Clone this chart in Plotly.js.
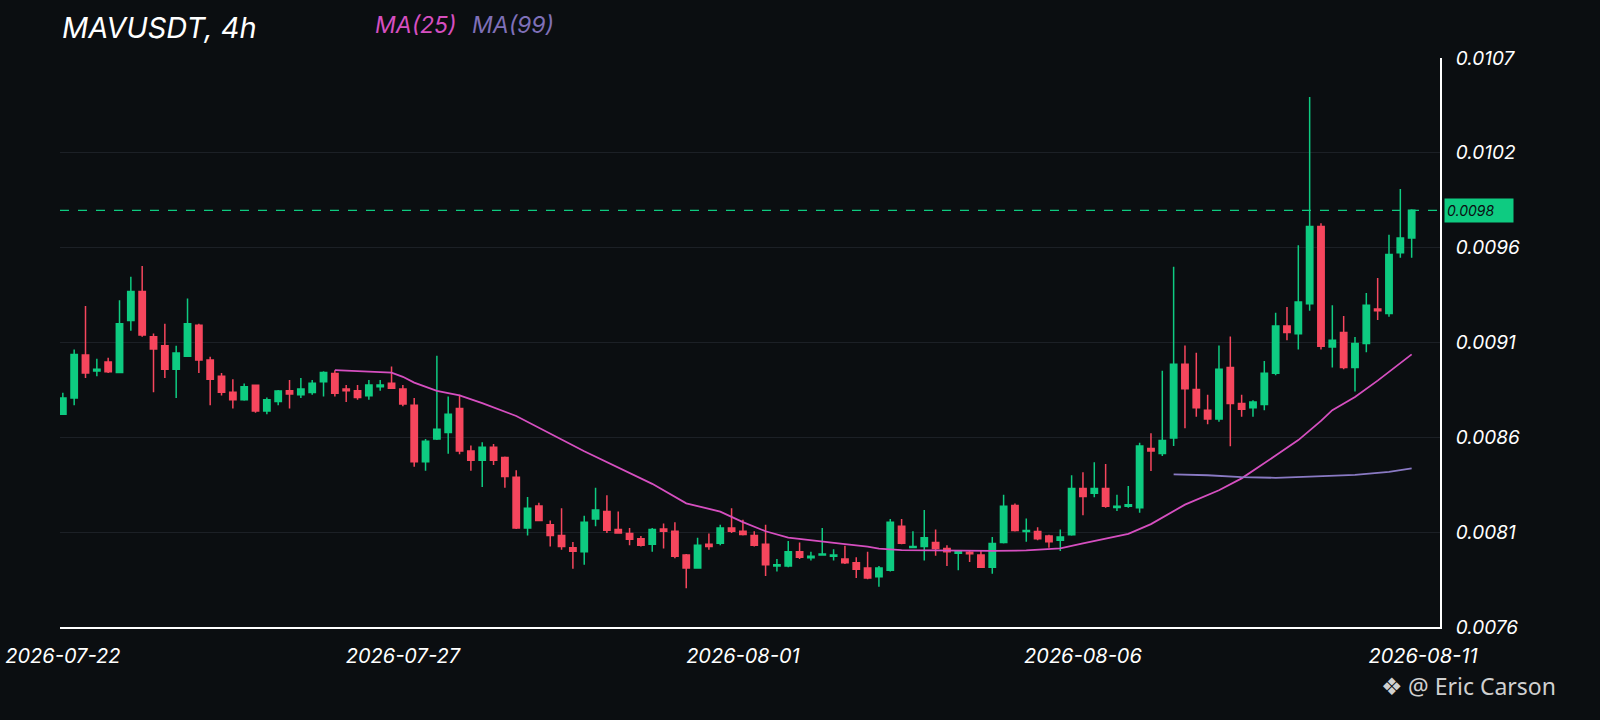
<!DOCTYPE html>
<html>
<head>
<meta charset="utf-8">
<script src="https://cdn.plot.ly/plotly-3.0.1.min.js"></script>
<style>
  html, body { margin: 0; padding: 0; background: #0b0e11; }
  #chart { width: 1600px; height: 720px; }
</style>
</head>
<body>
<div id="chart"></div>
<script>
// 4h candles, first one opens 2026-07-22 00:00
var startTime = "2026-07-22T00:00:00Z";

var opens = [
	0.008726, 0.008815, 0.009051, 0.008964, 0.009013, 0.008955, 0.009241, 0.009400, 0.009152, 0.009102,
	0.008974, 0.009045, 0.009214, 0.009024, 0.008935, 0.008847, 0.008806, 0.008886, 0.008744, 0.008797,
	0.008855, 0.008833, 0.008846, 0.008905, 0.008950, 0.008865, 0.008855, 0.008828, 0.008878, 0.008896,
	0.008865, 0.008776, 0.008466, 0.008591, 0.008627, 0.008758, 0.008525, 0.008475, 0.008546, 0.008489,
	0.008381, 0.008103, 0.008223, 0.008121, 0.008062, 0.007994, 0.007973, 0.008152, 0.008193, 0.008094,
	0.008073, 0.008044, 0.008014, 0.008098, 0.008085, 0.007955, 0.007883, 0.008014, 0.008019, 0.008103,
	0.008085, 0.008062, 0.008014, 0.007894, 0.007894, 0.007973, 0.007940, 0.007955, 0.007948, 0.007933,
	0.007912, 0.007883, 0.007835, 0.007871, 0.008112, 0.007996, 0.008001, 0.008023, 0.007990, 0.007965,
	0.007970, 0.007955, 0.007888, 0.008023, 0.008226, 0.008084, 0.008084, 0.008059, 0.008035, 0.008066,
	0.008320, 0.008294, 0.008320, 0.008215, 0.008222, 0.008214, 0.008539, 0.008511, 0.008596, 0.009001,
	0.008862, 0.008749, 0.008701, 0.008983, 0.008785, 0.008762, 0.008780, 0.008952, 0.009211, 0.009168,
	0.009333, 0.009756, 0.009096, 0.009175, 0.008983, 0.009114, 0.009304, 0.009279, 0.009612, 0.009693
];
var highs = [
	0.008845, 0.009081, 0.009320, 0.009031, 0.009037, 0.009351, 0.009480, 0.009539, 0.009170, 0.009223,
	0.009102, 0.009361, 0.009223, 0.009042, 0.008953, 0.008918, 0.008895, 0.008890, 0.008818, 0.008860,
	0.008914, 0.008926, 0.008914, 0.008962, 0.008968, 0.008887, 0.008887, 0.008914, 0.008914, 0.008989,
	0.008887, 0.008815, 0.008591, 0.009048, 0.008824, 0.008833, 0.008555, 0.008573, 0.008564, 0.008495,
	0.008420, 0.008273, 0.008241, 0.008144, 0.008211, 0.008026, 0.008170, 0.008323, 0.008282, 0.008193,
	0.008103, 0.008059, 0.008103, 0.008127, 0.008134, 0.007960, 0.008050, 0.008073, 0.008121, 0.008211,
	0.008148, 0.008085, 0.008121, 0.007933, 0.008032, 0.008023, 0.007973, 0.008103, 0.007987, 0.008005,
	0.007942, 0.007973, 0.007894, 0.008152, 0.008152, 0.008085, 0.008202, 0.008094, 0.008008, 0.007975,
	0.007977, 0.007977, 0.008053, 0.008285, 0.008237, 0.008155, 0.008107, 0.008066, 0.008094, 0.008392,
	0.008409, 0.008463, 0.008454, 0.008285, 0.008333, 0.008570, 0.008623, 0.008965, 0.009535, 0.009103,
	0.009064, 0.008834, 0.009103, 0.009153, 0.008834, 0.008803, 0.009019, 0.009283, 0.009315, 0.009653,
	0.010466, 0.009774, 0.009324, 0.009265, 0.009150, 0.009391, 0.009473, 0.009711, 0.009962, 0.009850
];
var lows = [
	0.008722, 0.008776, 0.008925, 0.008935, 0.008953, 0.008953, 0.009184, 0.009152, 0.008847, 0.008925,
	0.008815, 0.009040, 0.008953, 0.008776, 0.008829, 0.008758, 0.008800, 0.008735, 0.008726, 0.008776,
	0.008758, 0.008815, 0.008833, 0.008824, 0.008824, 0.008794, 0.008806, 0.008806, 0.008855, 0.008865,
	0.008770, 0.008439, 0.008417, 0.008586, 0.008510, 0.008507, 0.008417, 0.008327, 0.008448, 0.008323,
	0.008098, 0.008062, 0.008140, 0.008001, 0.007983, 0.007880, 0.007901, 0.008112, 0.008076, 0.008073,
	0.008008, 0.008001, 0.007973, 0.007990, 0.007937, 0.007772, 0.007880, 0.007983, 0.008008, 0.008076,
	0.008062, 0.008001, 0.007840, 0.007865, 0.007888, 0.007933, 0.007924, 0.007951, 0.007924, 0.007906,
	0.007829, 0.007822, 0.007781, 0.007865, 0.008014, 0.007994, 0.007924, 0.007951, 0.007894, 0.007871,
	0.007916, 0.007884, 0.007852, 0.008018, 0.008084, 0.008027, 0.008035, 0.007994, 0.007977, 0.008060,
	0.008173, 0.008272, 0.008214, 0.008196, 0.008214, 0.008187, 0.008415, 0.008498, 0.008552, 0.008650,
	0.008713, 0.008672, 0.008686, 0.008551, 0.008713, 0.008713, 0.008749, 0.008941, 0.009132, 0.009082,
	0.009294, 0.009082, 0.008983, 0.008974, 0.008851, 0.009067, 0.009243, 0.009261, 0.009585, 0.009585
];
var closes = [
	0.008815, 0.009054, 0.008953, 0.008974, 0.008960, 0.009223, 0.009400, 0.009161, 0.009085, 0.008974,
	0.009063, 0.009223, 0.009024, 0.008918, 0.008847, 0.008806, 0.008877, 0.008744, 0.008806, 0.008854,
	0.008837, 0.008865, 0.008896, 0.008955, 0.008842, 0.008855, 0.008819, 0.008887, 0.008887, 0.008869,
	0.008783, 0.008466, 0.008579, 0.008645, 0.008726, 0.008525, 0.008475, 0.008546, 0.008475, 0.008385,
	0.008103, 0.008211, 0.008144, 0.008062, 0.008001, 0.007976, 0.008134, 0.008202, 0.008091, 0.008076,
	0.008041, 0.008008, 0.008094, 0.008085, 0.007948, 0.007883, 0.008008, 0.008001, 0.008103, 0.008085,
	0.008067, 0.008008, 0.007901, 0.007901, 0.007973, 0.007942, 0.007948, 0.007960, 0.007955, 0.007912,
	0.007876, 0.007829, 0.007883, 0.008134, 0.008019, 0.008001, 0.008050, 0.007990, 0.007973, 0.007973,
	0.007962, 0.007888, 0.008018, 0.008222, 0.008089, 0.008089, 0.008044, 0.008027, 0.008053, 0.008320,
	0.008276, 0.008320, 0.008222, 0.008222, 0.008231, 0.008552, 0.008525, 0.008582, 0.009001, 0.008866,
	0.008762, 0.008701, 0.008974, 0.008785, 0.008754, 0.008794, 0.008952, 0.009211, 0.009175, 0.009342,
	0.009756, 0.009100, 0.009132, 0.008983, 0.009114, 0.009324, 0.009294, 0.009603, 0.009693, 0.009845
];

// moving averages (candle index -> value)
var ma25Idx = [24, 27, 29, 30, 31, 33, 35, 37, 39, 40, 46, 49, 52, 55, 58, 60, 62, 64, 67, 69,
	71, 72, 74, 79, 82, 85, 88, 90, 94, 96, 99, 102, 104, 107, 109, 111, 112, 114, 116, 119];
var ma25Val = [0.008968, 0.008962, 0.008955, 0.008932, 0.008900, 0.008855, 0.008830, 0.008788, 0.008740, 0.008717,
	0.008524, 0.008434, 0.008345, 0.008238, 0.008193, 0.008135, 0.008085, 0.008050, 0.008026, 0.008014,
	0.008001, 0.007990, 0.007982, 0.007977, 0.007977, 0.007980, 0.007991, 0.008018, 0.008071, 0.008124,
	0.008231, 0.008310, 0.008375, 0.008500, 0.008585, 0.008690, 0.008749, 0.008821, 0.008911, 0.009055];
var ma99Idx = [98, 101, 104, 107, 110, 114, 117, 119];
var ma99Val = [0.008397, 0.008392, 0.008382, 0.008378, 0.008385, 0.008394, 0.008410, 0.008430];

var lastPrice = 0.009845;

var yTickVals = [0.00756, 0.00808, 0.0086, 0.00912, 0.00964, 0.01016, 0.01068];
var yTickText = ["0.0076", "0.0081", "0.0086", "0.0091", "0.0096", "0.0102", "0.0107"];
var xTickVals = ["2026-07-22", "2026-07-27", "2026-08-01", "2026-08-06", "2026-08-11"];
var xTickText = ["2026-07-22", "2026-07-27", "2026-08-01", "2026-08-06", "2026-08-11"];

var GREEN = "#0ecb81";
var RED = "#f6465d";
var BG = "#0b0e11";
var FONT = "Inter, Roboto, 'Open Sans', sans-serif";

var t0 = new Date(startTime).getTime();
var times = [];
for (var i = 0; i < opens.length; i++) {
	times.push(new Date(t0 + i * 4 * 3600 * 1000).toISOString().slice(0, 16).replace("T", " "));
}
function pick(idx) {
	return idx.map(function (k) { return times[k]; });
}

var candles = {
	type: "candlestick",
	x: times,
	open: opens, high: highs, low: lows, close: closes,
	increasing: { line: { color: GREEN, width: 1.5 }, fillcolor: GREEN },
	decreasing: { line: { color: RED, width: 1.5 }, fillcolor: RED },
	hoverinfo: "skip",
	showlegend: false
};
var ma25 = {
	type: "scatter", mode: "lines",
	x: pick(ma25Idx), y: ma25Val,
	line: { color: "#d64fc0", width: 1.8 },
	hoverinfo: "skip", showlegend: false
};
var ma99 = {
	type: "scatter", mode: "lines",
	x: pick(ma99Idx), y: ma99Val,
	line: { color: "#8a7ac4", width: 1.8 },
	hoverinfo: "skip", showlegend: false
};

var italic = function (size, color) {
	return { family: FONT, size: size, color: color, style: "italic" };
};

var layout = {
	width: 1600, height: 720,
	margin: { l: 60, r: 160, t: 58, b: 93 },
	paper_bgcolor: BG, plot_bgcolor: BG,
	boxgap: 0.2,
	hovermode: false,
	xaxis: {
		type: "date",
		range: ["2026-07-21 23:00", "2026-08-11 06:00"],
		rangeslider: { visible: false },
		tickvals: xTickVals, ticktext: xTickText,
		tickfont: italic(20, "#ffffff"),
		ticks: "outside", ticklen: 10, tickcolor: "rgba(0,0,0,0)",
		showgrid: false, zeroline: false,
		showline: true, linecolor: "#ffffff", linewidth: 2
	},
	yaxis: {
		side: "right",
		range: [0.00756, 0.01068],
		tickvals: yTickVals, ticktext: yTickText,
		tickfont: italic(19, "#ffffff"),
		ticks: "outside", ticklen: 10, tickcolor: "rgba(0,0,0,0)",
		showgrid: true, gridcolor: "#1c2026", gridwidth: 1,
		zeroline: false,
		showline: true, linecolor: "#ffffff", linewidth: 2
	},
	shapes: [{
		type: "line", xref: "paper", yref: "y",
		x0: 0, x1: 1, y0: lastPrice, y1: lastPrice,
		line: { color: GREEN, width: 1.2, dash: "dash" }
	}],
	annotations: [
		{ text: "MAVUSDT, 4h", xref: "paper", yref: "paper", x: 0, y: 1.053,
			xanchor: "left", yanchor: "middle", showarrow: false, font: italic(29, "#ffffff") },
		{ text: "MA(25)", xref: "paper", yref: "paper", x: 0.2268, y: 1.058,
			xanchor: "left", yanchor: "middle", showarrow: false, font: italic(23, "#d64fc0") },
		{ text: "MA(99)", xref: "paper", yref: "paper", x: 0.2971, y: 1.058,
			xanchor: "left", yanchor: "middle", showarrow: false, font: italic(23, "#7f70b8") },
		{ text: "0.0098", xref: "paper", yref: "y", x: 1, y: lastPrice,
			xanchor: "left", yanchor: "middle", xshift: 4, showarrow: false,
			bgcolor: GREEN, width: 64, height: 19, align: "left", borderpad: 2,
			font: italic(14, "#0b0e11") },
		{ text: "❖", xref: "paper", yref: "paper", x: 0.9745, y: -0.106,
			xanchor: "right", yanchor: "middle", showarrow: false,
			font: { family: "'DejaVu Sans', sans-serif", size: 24, color: "#d0d0d0" } },
		{ text: "@ Eric Carson", xref: "paper", yref: "paper", x: 1.0855, y: -0.104,
			xanchor: "right", yanchor: "middle", showarrow: false,
			font: { family: "'Noto Sans', 'DejaVu Sans', sans-serif", size: 23, color: "#d0d0d0" } }
	]
};

Plotly.newPlot("chart", [candles, ma25, ma99], layout, { displayModeBar: false, staticPlot: true });
</script>
</body>
</html>
